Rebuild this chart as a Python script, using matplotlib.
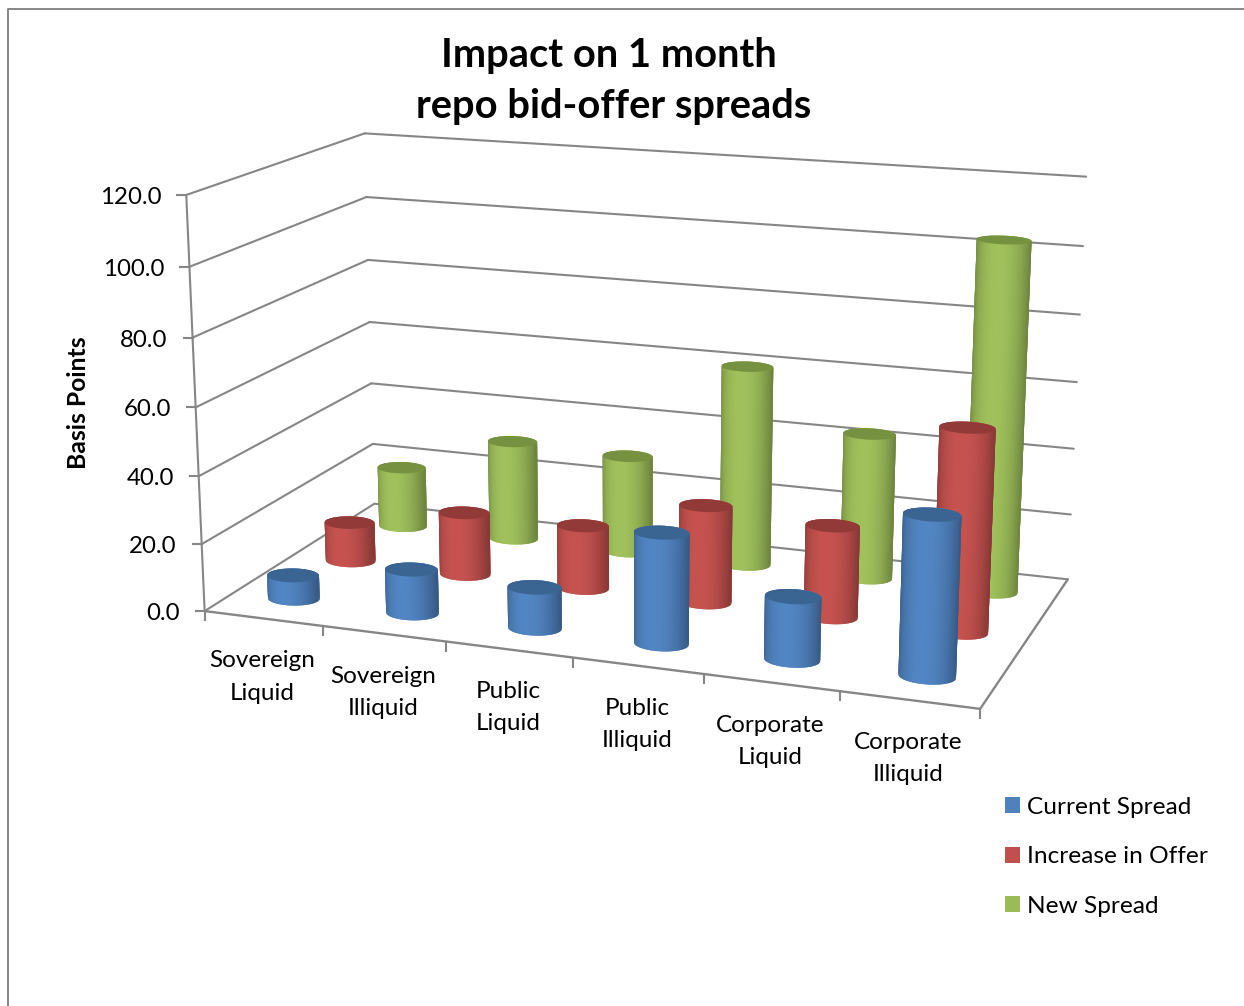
import numpy as np
import matplotlib
matplotlib.use("Agg")
import matplotlib.pyplot as plt
from matplotlib.collections import PolyCollection
from matplotlib.colors import to_rgb
from matplotlib.patches import Patch, Polygon

plt.rcParams['font.family'] = ['Lato', 'DejaVu Sans']

categories = ['Sovereign\nLiquid', 'Sovereign\nIlliquid', 'Public\nLiquid',
              'Public\nIlliquid', 'Corporate\nLiquid', 'Corporate\nIlliquid']
series_names = ['Current Spread', 'Increase in Offer', 'New Spread']
current_spread = [7, 13, 12, 32, 18, 45]
increase_in_offer = [12, 19, 19, 29, 27, 59]
new_spread = [19, 31, 30, 61, 44, 104]
value_ticks = [0, 20, 40, 60, 80, 100, 120]

series_values = [current_spread, increase_in_offer, new_spread]
side_colors = ['#4F81BD', '#C0504D', '#9BBB59']
cap_colors = ['#3A6491', '#913A38', '#76913F']
grid_color = '#868686'

WIDTH, HEIGHT = 1244, 1006
N_CAT = len(categories)
V_MAX = value_ticks[-1]

# box corners (category, depth, value) and where they sit on the canvas
box_points = np.array([[0, 0, 0], [N_CAT, 0, 0], [N_CAT, 1, 0], [0, 1, 0],
                       [0, 0, V_MAX], [0, 1, V_MAX], [N_CAT, 1, V_MAX]], float)
box_pixels = np.array([[205, 610], [980, 710], [1068, 578], [374, 505],
                       [186, 195], [365, 133], [1086, 177]], float)
SCALE3 = np.array([N_CAT, 1.0, V_MAX])


def fit_camera(points, pixels):
    # direct linear transform on normalised coordinates
    rows = []
    for q, (u, v) in zip(points / SCALE3, pixels / 1000):
        p = list(q) + [1]
        rows.append(p + [0, 0, 0, 0] + [-u * c for c in p])
        rows.append([0, 0, 0, 0] + p + [-v * c for c in p])
    return np.linalg.svd(np.array(rows))[2][-1].reshape(3, 4)


camera = fit_camera(box_points, box_pixels)


def project(c, d, v):
    c, d, v = np.broadcast_arrays(c, d, v)
    q = np.stack([c / N_CAT, d * 1.0, v / V_MAX, np.ones_like(c, dtype=float)]).reshape(4, -1)
    h = camera @ q
    return (1000 * h[:2] / h[2]).T


def line3d(ax, start, end, **kw):
    xy = project(*np.array([start, end], float).T)
    ax.plot(xy[:, 0], xy[:, 1], color=grid_color, solid_capstyle='round', **kw)


def shade(rgb, u):
    # dark at the silhouette, brightest just off centre
    f = 0.70 + 0.33 * (1 - u ** 2) ** 0.7
    return np.clip(np.array(rgb) * f, 0, 1)


def cylinder(ax, cat, depth, value, side, cap, zorder):
    rx, ry = 0.205, 0.055
    n = 120
    t = np.linspace(0, 2 * np.pi, n + 1)
    c, d = cat + rx * np.cos(t), depth + ry * np.sin(t)
    base = project(c, d, 0.0)
    top = project(c, d, value)

    # strips overlap their neighbour so no seams show, far side first
    quads = [[base[i], base[(i + 2) % n], top[(i + 2) % n], top[i]] for i in range(n)]
    mid = t[:-1] + 2 * np.pi / n
    order = np.argsort(-np.sin(mid))
    rgb = to_rgb(side)
    colors = [shade(rgb, np.cos(mid[i])) for i in order]
    ax.add_collection(PolyCollection([quads[i] for i in order], facecolors=colors,
                                     edgecolors='none', linewidths=0, zorder=zorder))
    ax.add_patch(Polygon(top, closed=True, facecolor=cap, edgecolor='none', zorder=zorder + 0.5))


fig = plt.figure(figsize=(WIDTH / 100, HEIGHT / 100), dpi=100)
ax = fig.add_axes([0, 0, 1, 1])
ax.set_xlim(0, WIDTH)
ax.set_ylim(HEIGHT, 0)
ax.axis('off')

# chart area border
ax.plot([7.5, 7.5, WIDTH], [HEIGHT, 8.5, 8.5], color=grid_color, lw=1.4)

# walls, floor and ticks
for v in value_ticks:
    line3d(ax, (0, 0, v), (0, 1, v), lw=1.5)
    line3d(ax, (0, 1, v), (N_CAT, 1, v), lw=1.5)
    x, y = project(0, 0, v)[0]
    ax.plot([x - 9, x], [y, y], color=grid_color, lw=1.5)
    ax.text(x - 25, y + 2.5, f'{v:.1f}', ha='right', va='center', fontsize=17.3, color='black')
line3d(ax, (0, 0, 0), (0, 0, V_MAX), lw=1.5)
line3d(ax, (0, 0, 0), (N_CAT, 0, 0), lw=1.7)
line3d(ax, (N_CAT, 0, 0), (N_CAT, 1, 0), lw=1.7)

for i in range(N_CAT + 1):
    x, y = project(i, 0, 0)[0]
    ax.plot([x, x], [y, y + 9], color=grid_color, lw=1.5)

for i, label in enumerate(categories):
    x, y = project(i + 0.5, 0, 0)[0]
    ax.text(x - 1, y + 58.5, label, ha='center', va='center', fontsize=17.5,
            linespacing=1.65, color='black')

# cylinders, back series first so the front ones overlap them
for j in (2, 1, 0):
    for i in range(N_CAT):
        cylinder(ax, i + 0.5, (j + 0.5) / 3, series_values[j][i],
                 side_colors[j], cap_colors[j], zorder=10 + 10 * (2 - j) + i)

ax.text(609, 55, 'Impact on 1 month', ha='center', va='center',
        fontsize=28.7, fontweight='bold', color='black')
ax.text(614, 106, 'repo bid-offer spreads', ha='center', va='center',
        fontsize=28.7, fontweight='bold', color='black')
ax.text(78, 402.5, 'Basis Points', rotation=90, ha='center', va='center',
        fontsize=17.8, fontweight='bold', color='black')

handles = [Patch(facecolor=c, edgecolor='none', label=n) for c, n in zip(side_colors, series_names)]
ax.legend(handles=handles, loc='upper left', bbox_to_anchor=(1005, 797), bbox_transform=ax.transData,
          frameon=False, fontsize=17.6, handlelength=0.62, handleheight=0.62, handletextpad=0.3,
          labelspacing=1.16, borderpad=0, borderaxespad=0)

fig.savefig('out.png', dpi=100, facecolor='white')
